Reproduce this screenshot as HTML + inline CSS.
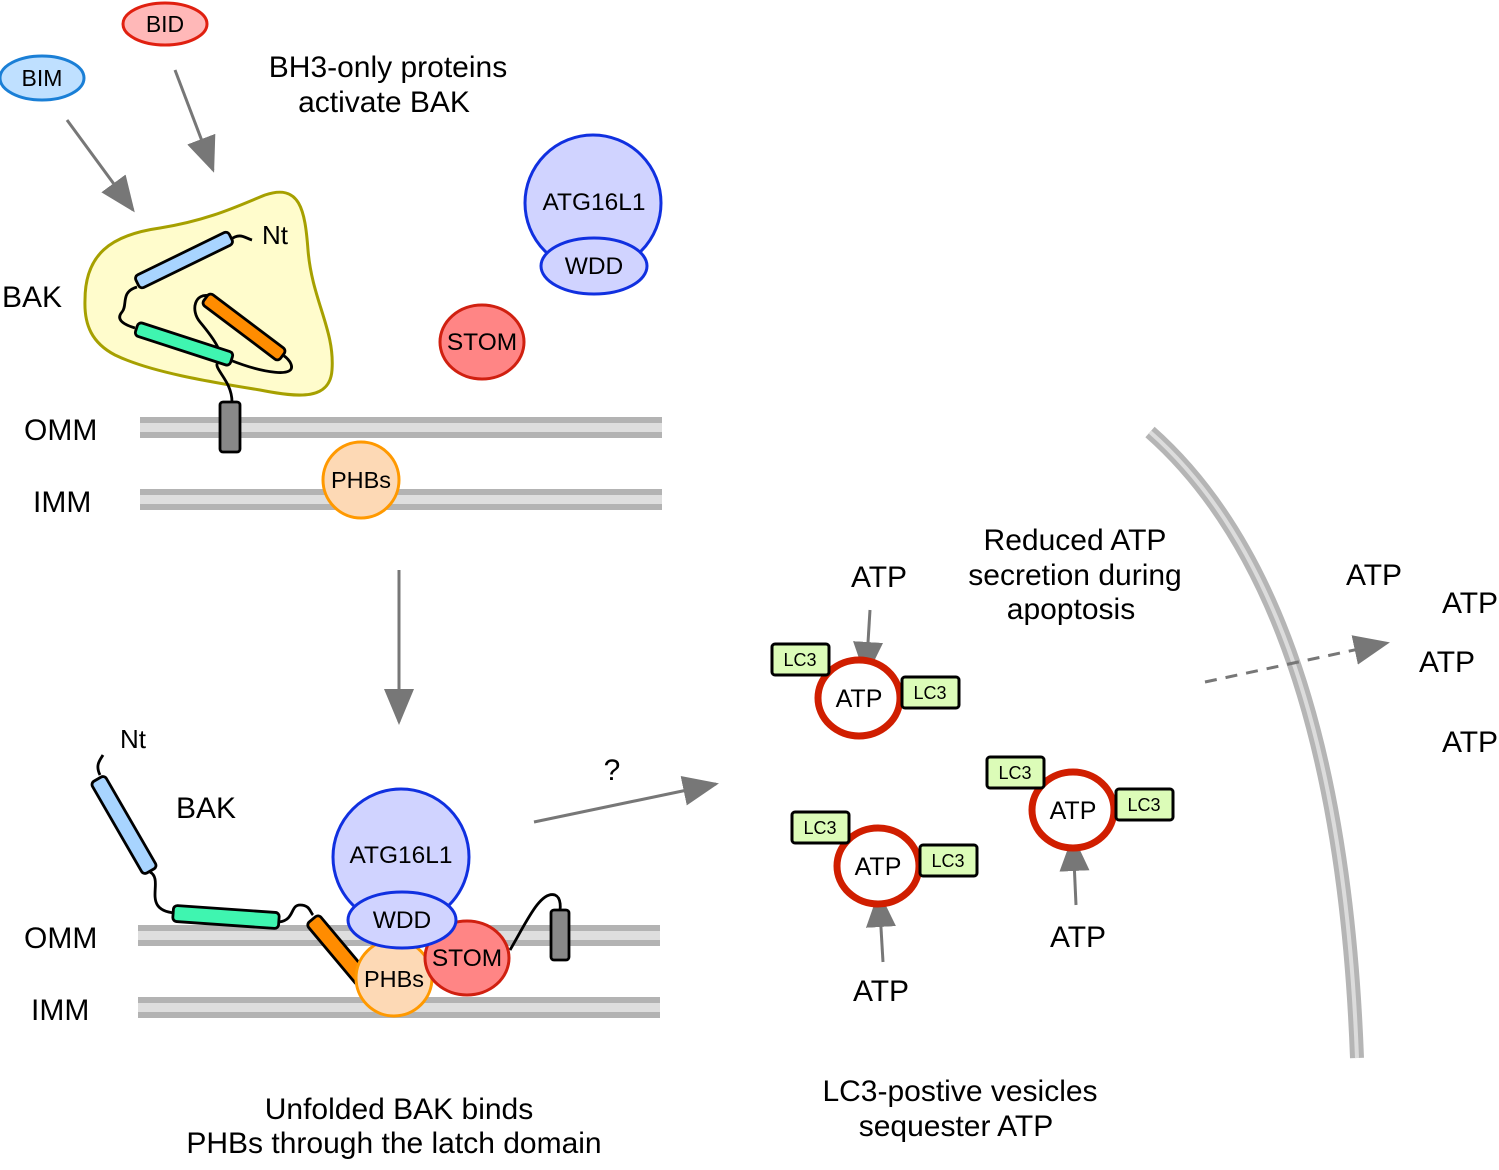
<!DOCTYPE html>
<html><head><meta charset="utf-8"><style>
html,body{margin:0;padding:0;background:#fff}
svg{display:block;font-family:"Liberation Sans",Arial,sans-serif}
</style></head><body>
<svg width="1499" height="1170" viewBox="0 0 1499 1170" xmlns="http://www.w3.org/2000/svg">
<defs>
<marker id="a" viewBox="0 0 12 10" refX="11" refY="5" markerWidth="12" markerHeight="10" orient="auto" markerUnits="strokeWidth">
<path d="M0,0 L12,5 L0,10 Z" fill="#777"/></marker>
</defs>

<!-- membranes -->
<g>
<rect x="140" y="417" width="522" height="21" fill="#b3b3b3"/><rect x="140" y="423" width="522" height="9" fill="#dedede"/>
<rect x="140" y="489" width="522" height="21" fill="#b3b3b3"/><rect x="140" y="495" width="522" height="9" fill="#dedede"/>
<rect x="138" y="925" width="522" height="21" fill="#b3b3b3"/><rect x="138" y="931" width="522" height="9" fill="#dedede"/>
<rect x="138" y="997" width="522" height="21" fill="#b3b3b3"/><rect x="138" y="1003" width="522" height="9" fill="#dedede"/>
</g>

<!-- cell membrane arc -->
<path d="M1150,432 Q1340,600 1357,1058" fill="none" stroke="#b5b5b5" stroke-width="14"/>
<path d="M1150,432 Q1340,600 1357,1058" fill="none" stroke="#dcdcdc" stroke-width="4"/>

<!-- text labels -->
<g font-size="30" fill="#000">
<text x="388" y="77" text-anchor="middle">BH3-only proteins</text>
<text x="384" y="112" text-anchor="middle">activate BAK</text>
<text x="2" y="307">BAK</text>
<text x="24" y="440">OMM</text>
<text x="33" y="512">IMM</text>
<text x="24" y="948">OMM</text>
<text x="31" y="1020">IMM</text>
<text x="176" y="818">BAK</text>
<text x="612" y="780" text-anchor="middle">?</text>
<text x="399" y="1119" text-anchor="middle">Unfolded BAK binds</text>
<text x="394" y="1153" text-anchor="middle">PHBs through the latch domain</text>
<text x="960" y="1101" text-anchor="middle">LC3-postive vesicles</text>
<text x="956" y="1136" text-anchor="middle">sequester ATP</text>
<text x="1075" y="550" text-anchor="middle">Reduced ATP</text>
<text x="1075" y="585" text-anchor="middle">secretion during</text>
<text x="1071" y="619" text-anchor="middle">apoptosis</text>
<text x="879" y="587" text-anchor="middle">ATP</text>
<text x="881" y="1001" text-anchor="middle">ATP</text>
<text x="1078" y="947" text-anchor="middle">ATP</text>
<text x="1374" y="585" text-anchor="middle">ATP</text>
<text x="1470" y="613" text-anchor="middle">ATP</text>
<text x="1447" y="672" text-anchor="middle">ATP</text>
<text x="1470" y="752" text-anchor="middle">ATP</text>
<text x="120" y="748" font-size="26">Nt</text>
</g>

<!-- BIM / BID -->
<ellipse cx="42" cy="78" rx="42" ry="22" fill="#bfe0ff" stroke="#1a7fd6" stroke-width="3"/>
<text x="42" y="86" font-size="23" text-anchor="middle">BIM</text>
<ellipse cx="165" cy="24" rx="42" ry="21" fill="#ffb8b8" stroke="#e02010" stroke-width="3"/>
<text x="165" y="32" font-size="23" text-anchor="middle">BID</text>

<!-- arrows -->
<g stroke="#777" stroke-width="3" fill="none" marker-end="url(#a)">
<line x1="67" y1="120" x2="133" y2="210"/>
<line x1="175" y1="70" x2="213" y2="170"/>
<line x1="399" y1="570" x2="399" y2="722"/>
<line x1="534" y1="822" x2="716" y2="784"/>
<line x1="870" y1="610" x2="866" y2="675"/>
<line x1="883" y1="962" x2="879" y2="894"/>
<line x1="1076" y1="905" x2="1073" y2="838"/>
<line x1="1205" y1="682" x2="1387" y2="643" stroke-dasharray="12,9"/>
</g>

<!-- top BAK -->
<path d="M85,300 C85,255 110,235 160,228 C210,220 240,205 265,195 C300,183 305,210 308,250 C312,300 335,330 332,370 C330,400 300,398 260,390 C210,382 150,372 115,355 C92,343 84,325 85,300 Z" fill="#fffccc" stroke="#a6a000" stroke-width="3"/>
<text x="262" y="244" font-size="26">Nt</text>
<g fill="none" stroke="#000" stroke-width="2.8">
<path d="M230,240 C240,232 245,238 252,240"/>
<path d="M137,287 C120,292 128,305 122,312 C115,320 125,325 135,328"/>
<path d="M230,360 C260,372 300,380 290,362 C285,355 283,356 283,356"/>
<path d="M210,296 C195,292 190,310 200,322 C215,340 225,355 218,362 C212,368 232,380 232,402"/>
</g>
<g stroke="#000" stroke-width="2.8">
<rect x="-52" y="-7" width="104" height="14" rx="4" fill="#a8d4ff" transform="translate(184,260) rotate(-26)"/>
<rect x="-50" y="-7" width="100" height="14" rx="4" fill="#3ff5b0" transform="translate(184,344) rotate(18)"/>
<rect x="-48" y="-7" width="96" height="14" rx="4" fill="#ff8c00" transform="translate(244,327) rotate(37)"/>
</g>
<rect x="220" y="402" width="20" height="50" rx="3" fill="#888" stroke="#000" stroke-width="2.8"/>

<!-- top proteins -->
<circle cx="593" cy="203" r="68" fill="#d0d3ff" stroke="#1030e0" stroke-width="3"/>
<ellipse cx="594" cy="266" rx="53" ry="28" fill="#d0d3ff" stroke="#1030e0" stroke-width="3"/>
<text x="594" y="210" font-size="24.5" text-anchor="middle">ATG16L1</text>
<text x="594" y="274" font-size="24.5" text-anchor="middle">WDD</text>
<ellipse cx="482" cy="342" rx="42" ry="37" fill="#ff8585" stroke="#d02010" stroke-width="3"/>
<text x="482" y="350" font-size="24.5" text-anchor="middle">STOM</text>
<circle cx="361" cy="480" r="38" fill="#fdd9b5" stroke="#ff9900" stroke-width="3"/>
<text x="361" y="488" font-size="23.5" text-anchor="middle">PHBs</text>

<!-- bottom BAK -->
<g fill="none" stroke="#000" stroke-width="2.8">
<path d="M100,775 C95,765 100,760 103,755"/>
<path d="M150,872 C165,880 140,910 175,913"/>
<path d="M279,922 C295,920 290,905 300,905 C310,905 310,912 313,915"/>
<path d="M510,950 C525,925 540,890 555,895 C562,898 560,910 560,910"/>
</g>
<g stroke="#000" stroke-width="2.8">
<rect x="-53" y="-8" width="106" height="16" rx="4" fill="#a8d4ff" transform="translate(124,825) rotate(60)"/>
<rect x="-53" y="-8" width="106" height="16" rx="4" fill="#3ff5b0" transform="translate(226,917) rotate(4)"/>
<rect x="-40" y="-8" width="80" height="16" rx="4" fill="#ff8c00" transform="translate(338,950) rotate(50)"/>
</g>
<rect x="551" y="910" width="18" height="50" rx="3" fill="#888" stroke="#000" stroke-width="2.8"/>
<circle cx="394" cy="978" r="38" fill="#fdd9b5" stroke="#ff9900" stroke-width="3"/>
<ellipse cx="467" cy="958" rx="42" ry="37" fill="#ff8585" stroke="#d02010" stroke-width="3"/>
<circle cx="401" cy="857" r="68" fill="#d0d3ff" stroke="#1030e0" stroke-width="3"/>
<ellipse cx="402" cy="920" rx="54" ry="28" fill="#d0d3ff" stroke="#1030e0" stroke-width="3"/>
<text x="401" y="863" font-size="24.5" text-anchor="middle">ATG16L1</text>
<text x="402" y="928" font-size="24.5" text-anchor="middle">WDD</text>
<text x="467" y="966" font-size="24.5" text-anchor="middle">STOM</text>
<text x="394" y="987" font-size="23.5" text-anchor="middle">PHBs</text>

<!-- vesicles -->
<g stroke="#d01e00" stroke-width="7" fill="#fff">
<ellipse cx="859" cy="698" rx="41" ry="38"/>
<ellipse cx="878" cy="866" rx="41" ry="38"/>
<ellipse cx="1073" cy="810" rx="41" ry="38"/>
</g>
<g font-size="25" text-anchor="middle">
<text x="859" y="707">ATP</text>
<text x="878" y="875">ATP</text>
<text x="1073" y="819">ATP</text>
</g>
<g fill="#dcfcb8" stroke="#000" stroke-width="3">
<rect x="772" y="644" width="57" height="31" rx="3"/>
<rect x="902" y="677" width="57" height="31" rx="3"/>
<rect x="792" y="812" width="57" height="31" rx="3"/>
<rect x="920" y="845" width="57" height="31" rx="3"/>
<rect x="987" y="757" width="57" height="31" rx="3"/>
<rect x="1116" y="789" width="57" height="31" rx="3"/>
</g>
<g font-size="18" text-anchor="middle">
<text x="800" y="666">LC3</text>
<text x="930" y="699">LC3</text>
<text x="820" y="834">LC3</text>
<text x="948" y="867">LC3</text>
<text x="1015" y="779">LC3</text>
<text x="1144" y="811">LC3</text>
</g>
</svg>
</body></html>
